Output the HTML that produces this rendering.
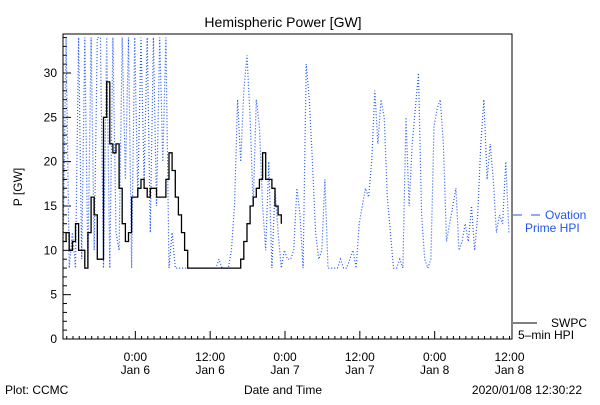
<!DOCTYPE html>
<html><head><meta charset="utf-8"><style>
html,body{margin:0;padding:0;background:#fff}
svg text{font-family:"Liberation Sans",sans-serif;font-size:12px}
</style></head><body>
<svg id="chart" width="600" height="400">
<defs><clipPath id="plotclip"><rect x="63" y="34" width="449" height="305"/></clipPath></defs>
<text x="283" y="27" text-anchor="middle" font-size="14" style="font-size:14px">Hemispheric Power [GW]</text>
<g id="yaxis"></g>
<g id="xaxis"></g>
<text transform="translate(22,187) rotate(-90)" text-anchor="middle">P [GW]</text>
<g clip-path="url(#plotclip)">
<path id="blue" fill="none" stroke="#2255ee" stroke-width="1.2" stroke-dasharray="1 2"/>
<path id="black" fill="none" stroke="#000" stroke-width="1.3"/>
</g>
<rect x="63" y="34" width="449" height="305" fill="none" stroke="#000"/>
<g>
<line x1="513" y1="215" x2="522" y2="215" stroke="#2255ee"/><line x1="531" y1="215" x2="540" y2="215" stroke="#2255ee"/>
<text x="545" y="219" fill="#2255ee">Ovation</text>
<text x="525" y="232" fill="#2255ee">Prime HPI</text>
</g>
<g>
<line x1="513" y1="323" x2="537" y2="323" stroke="#000"/>
<text x="551" y="327">SWPC</text>
<text x="518" y="339">5–min HPI</text>
</g>
<text x="5" y="394">Plot: CCMC</text>
<text x="283" y="394" text-anchor="middle">Date and Time</text>
<text x="582" y="394" text-anchor="end">2020/01/08 12:30:22</text>
</svg>
<script>
const yTicks=[0,5,10,15,20,25,30];
const xTickHours=[11.6,23.6,35.6,47.6,59.6,71.6];
const xTickTimes=["0:00","12:00","0:00","12:00","0:00","12:00"];
const xTickDates=["Jan 6","Jan 6","Jan 7","Jan 7","Jan 8","Jan 8"];
const stepHours=0.5;
const blueValues=[10,34,8,12,8,34,9,34,8,34,10,34,34,8,34,8,34,12,10,
34,18,34,8,34,16,34,18,34,12,34,15,34,20,34,8,12,
8,8,8,8,8,8,8,8,8,8,8,8,8,8,9,8,8,
8,10,15,27,20,28,32,25,15,27,24,15,10,20,8,17,12,8,10,9,9,10,17,14,8,31,27,20,12,9,10,18,8,
8,8,8,9,8,8,9,10,8,13,15,17,16,20,28,22,27,25,16,12,8,8,9,8,25,15,22,26,30,14,9,8,9,24,26,27,22,11,13,15,17,10,11,13,11,15,10,14,22,27,18,22,18,12,14,13,20,12];
const blackValues=[11,12,10,11,13,10,10,8,12,16,14,9,9,25,29,22,21,22,17,13,11,12,16,16,17,18,17,16,17,17,16,16,16,18,21,19,16,14,12,10,
8,8,8,8,8,8,8,8,8,8,8,8,8,8,8,8,8,9,11,13,15,16,17,18,21,18,18,17,15,14,13];
const X0=63,X1=512,Y0=339,Y1=34,H=72,VMAX=34.4;
const sx=h=>X0+(X1-X0)*h/H;
const sy=v=>Y0-(Y0-Y1)*v/VMAX;
const NS="http://www.w3.org/2000/svg";
function mk(t,a,p){const e=document.createElementNS(NS,t);for(const k in a)e.setAttribute(k,a[k]);p.appendChild(e);return e;}
const ya=document.getElementById('yaxis');
for(let v=0;v<=34;v++){const big=v%5===0;const l=mk('line',{x1:X0,x2:X0+(big?8:4),y1:sy(v),y2:sy(v),stroke:'#000'},ya);

}
yTicks.forEach(v=>{const t=mk('text',{x:X0-6,y:sy(v)+4,'text-anchor':'end'},ya);t.textContent=v;

});
const xa=document.getElementById('xaxis');
for(let h=Math.ceil(-0.4);h<=72;h++){const hh=h-0.4;if(hh<0)continue;const big=Math.abs((hh-11.6)%12)<0.01;const l=mk('line',{x1:sx(hh),x2:sx(hh),y1:Y0,y2:Y0-(big?8:3),stroke:'#000'},xa);

}
xTickHours.forEach((h,i)=>{const t=mk('text',{x:sx(h),y:361,'text-anchor':'middle'},xa);t.textContent=xTickTimes[i];


const d=mk('text',{x:sx(h),y:374,'text-anchor':'middle'},xa);d.textContent=xTickDates[i];

});
function line(vals){return vals.map((v,i)=>(i?'L':'M')+sx(i*stepHours).toFixed(1)+','+sy(v).toFixed(1)).join('');}
function steps(vals){let d='';vals.forEach((v,i)=>{const x=sx(i*stepHours),y=sy(v);d+=(i?'H'+x.toFixed(1)+'V':'M'+x.toFixed(1)+',')+y.toFixed(1);});return d;}
document.getElementById('blue').setAttribute('d',line(blueValues));
document.getElementById('black').setAttribute('d',steps(blackValues));
</script>
</body></html>
